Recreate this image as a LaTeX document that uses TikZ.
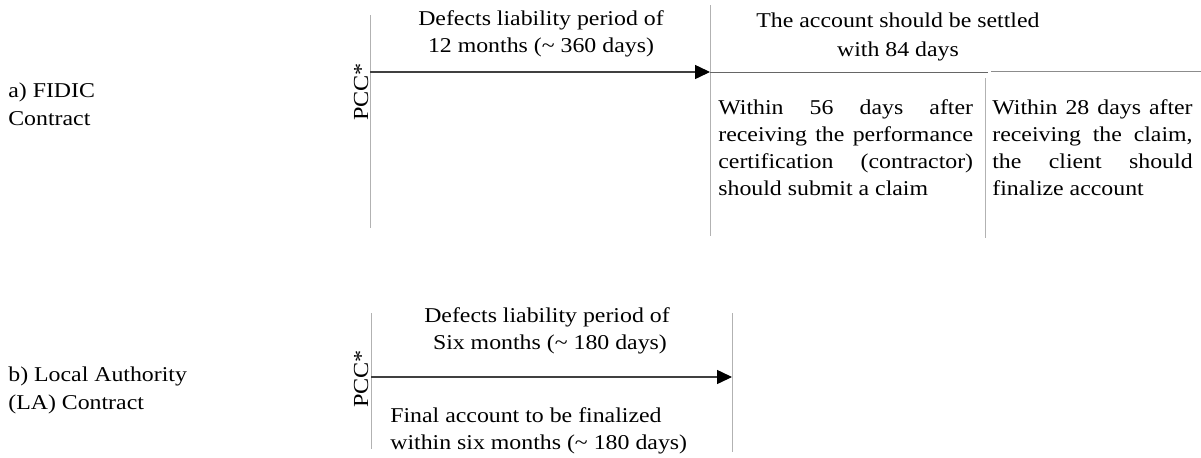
\documentclass[tikz,border=0pt]{standalone}
\usepackage{fontspec}
\setmainfont{Liberation Serif}[FakeStretch=1.13]
\usetikzlibrary{arrows.meta,positioning}
\hyphenpenalty=10000
\exhyphenpenalty=10000

\tikzset{
  txt/.style={font=\fontsize{12}{15.5}\selectfont, inner sep=0pt},
  boxtxt/.style={txt, align=justify, anchor=north west},
  pcc/.style={font=\fontsize{12.2}{14}\selectfont, inner sep=0pt, rotate=90, anchor=base},
  mark line/.style={draw=gray!60, line width=0.5pt},
  time arrow/.style={draw=black!75, line width=0.6pt, -{Triangle[length=8.5pt,width=8pt,color=black]}},
}

\begin{document}
\begin{tikzpicture}[x=0.02cm, y=-0.02cm]
\useasboundingbox (0,0) rectangle (1201,457);

% a) FIDIC contract
\node[txt, align=left, anchor=north west] (fidic) at (8,83) {a) FIDIC\\Contract};
\coordinate (pcca top) at (370,15);
\coordinate (pcca bot) at (370,228);
\coordinate (dlpa end) at (710,5);
\coordinate (dlpa bot) at (710,236);
\coordinate (claim top) at (985,78);
\coordinate (claim bot) at (985,238);
\coordinate (acct break) at (988,72);
\coordinate (acct next) at (991,71);
\coordinate (settle end) at (1201,71);
\node[pcc] (pcca) at (368,92) {PCC*};
\node[txt, align=center] (dlpa) at (541,34) {Defects liability period of\\12 months (\char`\~{} 360 days)};
\node[txt, align=center] (settle) at (898,37) {The account should be settled\\[1pt]with 84 days};
\node[boxtxt, text width=145pt] (submit) at (718,99)
  {Within 56 days after receiving the performance certification (contractor) should submit a claim};
\node[boxtxt, text width=114pt] (finalize) at (992,99)
  {Within 28 days after receiving the claim, the client should finalize account};

\draw[mark line] (pcca top) -- (pcca bot);
\draw[mark line] (dlpa end) -- (dlpa bot);
\draw[mark line] (claim top) -- (claim bot);
\draw[time arrow] (pcca top |- 0,72) -- (dlpa end |- 0,72);
\draw[draw=black!60, line width=0.5pt] (dlpa end |- 0,72) -- (acct break);
\draw[draw=black!45, line width=0.5pt] (acct next) -- (settle end);

% b) Local Authority contract
\node[txt, align=left, anchor=north west] (la) at (8,367) {b) Local Authority\\(LA) Contract};
\coordinate (pccb top) at (371,313);
\coordinate (pccb bot) at (371,449);
\coordinate (dlpb end) at (732,313);
\coordinate (dlpb bot) at (732,452);
\node[pcc] (pccb) at (368,379) {PCC*};
\node[txt, align=center] (dlpb) at (547,331) {Defects liability period of\\\ Six months (\char`\~{} 180 days)};
\node[txt, align=left, anchor=north west] (final) at (390,407)
  {Final account to be finalized\\within six months (\char`\~{} 180 days)};

\draw[mark line] (pccb top) -- (pccb bot);
\draw[mark line] (dlpb end) -- (dlpb bot);
\draw[time arrow] (pccb top |- 0,377) -- (dlpb end |- 0,377);
\end{tikzpicture}
\end{document}
